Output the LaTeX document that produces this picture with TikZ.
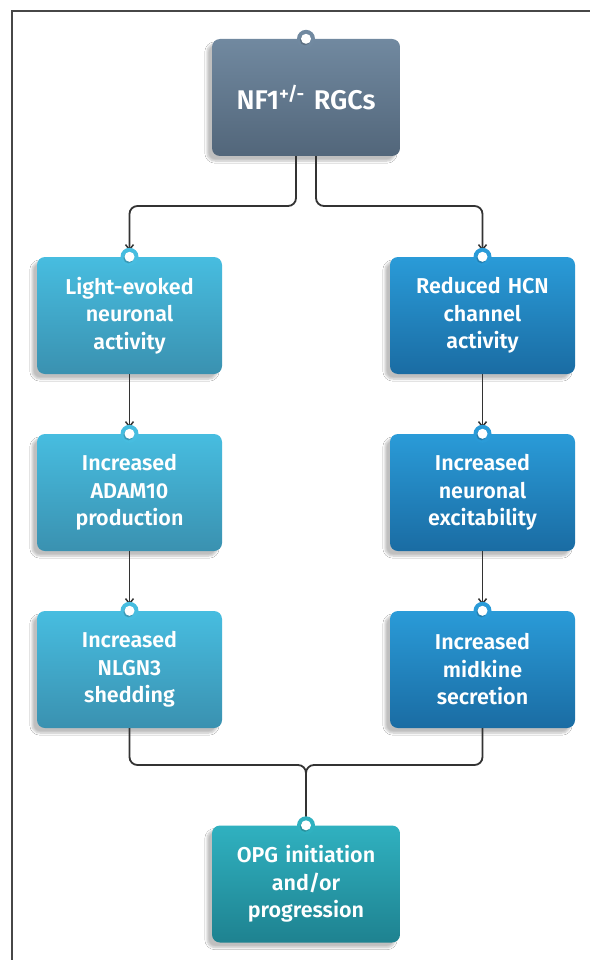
\documentclass[tikz,border=0pt]{standalone}
\usepackage{fontspec}
\setmainfont{Fira Sans SemiBold}
\usetikzlibrary{shadows.blur,arrows.meta}
\definecolor{topT}{HTML}{7189A0}
\definecolor{topB}{HTML}{52667A}
\definecolor{leftT}{HTML}{47BDE0}
\definecolor{leftB}{HTML}{3A91B0}
\definecolor{rightT}{HTML}{2A9BD8}
\definecolor{rightB}{HTML}{1A6CA3}
\definecolor{botT}{HTML}{30B1C0}
\definecolor{botB}{HTML}{1E8290}
\definecolor{linec}{HTML}{333333}
\tikzset{
  box/.style={rounded corners=8pt, inner sep=0pt, text=white, align=center,
    font=\fontsize{21.5}{27.5}\selectfont,
    blur shadow={shadow xshift=-5pt, shadow yshift=-5pt, shadow blur steps=6, shadow opacity=25}},
  sidebox/.style={box, minimum width=185pt, minimum height=117pt, text width=178pt},
  midbox/.style={box, minimum width=188pt, minimum height=117pt, text width=180pt},
  gtop/.style={top color=topT, bottom color=topB},
  gleft/.style={top color=leftT, bottom color=leftB},
  gright/.style={top color=rightT, bottom color=rightB},
  gbot/.style={top color=botT, bottom color=botB},
  conn/.style={draw=linec, line width=1.8pt, rounded corners=8pt},
  arr/.style={conn, -{Straight Barb[length=5pt,width=8pt,line width=1.5pt]}, shorten >=6pt},
}
\newcommand{\dotmark}[2]{%
  \fill[#2] (#1) circle (9pt);
  \fill[black, opacity=0.18] ([xshift=-1pt,yshift=-1.5pt]#1) circle (5pt);
  \fill[white] (#1) circle (5pt);
}
\begin{document}
\begin{tikzpicture}[x=1pt,y=-1pt]
\useasboundingbox (0,0) rectangle (590,960);
\fill[white] (0,0) rectangle (590,960);
\draw[color=linec!90, line width=2pt] (12,960) -- (12,11) -- (590,11);

\node[midbox, gtop, font=\fontsize{27}{30}\selectfont] (top) at (306,97.5) {NF1\textsuperscript{+/-} RGCs};

\node[sidebox, gleft] (L1) at (129.5,315.5) {Light-evoked\\neuronal\\activity};
\node[sidebox, gleft] (L2) at (129.5,492.5) {Increased\\ADAM10\\production};
\node[sidebox, gleft] (L3) at (129.5,669.5) {Increased\\NLGN3\\shedding};

\node[sidebox, gright] (R1) at (482.5,315.5) {Reduced HCN\\channel\\activity};
\node[sidebox, gright] (R2) at (482.5,492.5) {Increased\\neuronal\\excitability};
\node[sidebox, gright] (R3) at (482.5,669.5) {Increased\\midkine\\secretion};

\node[midbox, gbot] (bot) at (306,884) {OPG initiation\\and/or\\progression};

\coordinate (sL) at (296,206);
\coordinate (sR) at (316,206);
\coordinate (jY) at (306,765);

% connectors
\draw[arr] (top.south -| sL) -- (sL) -| (L1.north);
\draw[arr] (top.south -| sR) -- (sR) -| (R1.north);
\draw[arr] (L1.south) -- (L2.north);
\draw[arr] (L2.south) -- (L3.north);
\draw[arr] (R1.south) -- (R2.north);
\draw[arr] (R2.south) -- (R3.north);
\draw[conn] (L3.south) |- (jY) -- (bot.north);
\draw[conn] (R3.south) |- (jY) -- (bot.north);

% dots
\dotmark{top.north}{topT}
\dotmark{L1.north}{leftT}
\dotmark{L2.north}{leftT}
\dotmark{L3.north}{leftT}
\dotmark{R1.north}{rightT}
\dotmark{R2.north}{rightT}
\dotmark{R3.north}{rightT}
\dotmark{bot.north}{botT}
\end{tikzpicture}
\end{document}
